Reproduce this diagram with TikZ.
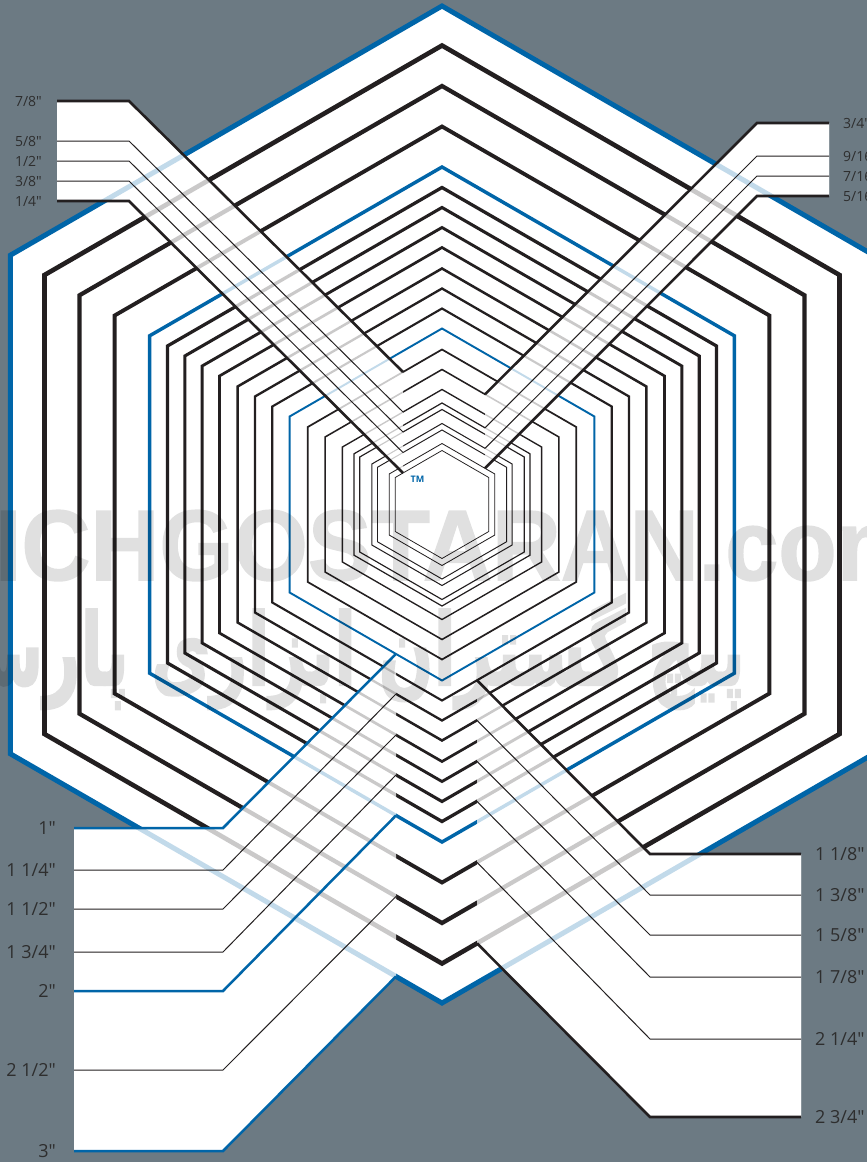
\documentclass[tikz,border=0pt]{standalone}
\usepackage{fontspec}
\newfontfamily\labfont{Open Sans}
\newfontface\markfont[FakeBold=1.5]{Liberation Sans Bold}
\newfontface\arabicfont[Script=Arabic, FakeBold=2]{DejaVu Sans Bold}
\TeXXeTstate=1
\definecolor{slatebg}{HTML}{6C7A83}
\definecolor{gaugeblue}{HTML}{0065A8}
\definecolor{gaugeblack}{HTML}{231F20}
\definecolor{labelgrey}{HTML}{2E2E2E}
\tikzset{
	bandfill/.style={fill=white, draw=none},
	bandveil/.style={fill=white, fill opacity=0.76, draw=none},
	edgeblack/.style={draw=gaugeblack, line width=2.6pt},
	edgeblue/.style={draw=gaugeblue, line width=2.5pt},
	thinblack/.style={draw=gaugeblack, line width=1pt},
	smalllab/.style={text=labelgrey, font=\labfont\fontsize{14}{14}\selectfont, inner sep=0pt},
	biglab/.style={text=labelgrey, font=\labfont\fontsize{18}{18}\selectfont, inner sep=0pt},
	watermark/.style={text=black, inner sep=0pt, transform shape}
}
\begin{document}
\begin{tikzpicture}[x=1pt, y=-1pt, line join=miter]
	\useasboundingbox (0,0) rectangle (867,1162);
	\clip (0,0) rectangle (867,1162);
	\fill[slatebg] (0,0) rectangle (867,1162);
	\coordinate (cen) at (442,504.5);
	
	% White bands under the hexagons
	\fill[bandfill] (57,101)--(129,101)--(403,372)--(403,473)--(129,201)--(57,201)--cycle;
	\fill[bandfill] (829,123)--(757,123)--(485,394.3)--(485,468.3)--(757,196)--(829,196)--cycle;
	\fill[bandfill] (74,828)--(223,828)--(396,654)--(396,976.5)--(223,1151)--(74,1151)--cycle;
	\fill[bandfill] (801,854)--(650,854)--(477,680.3)--(477,943.3)--(650,1117)--(801,1117)--cycle;
	
	% Hexagons, largest first
	\fill[white] (cen)+(90:498.5)--+(150:498.5)--+(210:498.5)--+(270:498.5)--+(330:498.5)--+(30:498.5)--cycle;
	\foreach \rad/\hexcol in {498.5/gaugeblue, 459/gaugeblack, 418.5/gaugeblack, 378/gaugeblack,
		337.5/gaugeblue, 317/gaugeblack, 297/gaugeblack, 277/gaugeblack, 257/gaugeblack,
		236/gaugeblack, 216/gaugeblack, 196/gaugeblack, 176/gaugeblue, 155/gaugeblack,
		135/gaugeblack, 115/gaugeblack, 101.5/gaugeblack, 95/gaugeblack, 81/gaugeblack,
		74.5/gaugeblack, 61/gaugeblack, 54/gaugeblack} {
		\pgfmathsetmacro{\wdt}{0.25+\rad/105}
		\draw[draw=\hexcol, line width=\wdt pt] (cen)+(90:\rad)--+(150:\rad)--+(210:\rad)--+(270:\rad)--+(330:\rad)--+(30:\rad)--cycle;
	}
	
	% Veil that fades the hexagons inside the bands
	\fill[bandveil] (57,101)--(129,101)--(403,372)--(403,473)--(129,201)--(57,201)--cycle;
	\fill[bandveil] (829,123)--(757,123)--(485,394.3)--(485,468.3)--(757,196)--(829,196)--cycle;
	\fill[bandveil] (74,828)--(223,828)--(396,654)--(396,976.5)--(223,1151)--(74,1151)--cycle;
	\fill[bandveil] (801,854)--(650,854)--(477,680.3)--(477,943.3)--(650,1117)--(801,1117)--cycle;
	
	% Leaders and labels, top left
	\foreach \yy/\rad/\txt/\sty in {101/155/{7/8"}/edgeblack, 141/115/{5/8"}/thinblack,
		161/95/{1/2"}/thinblack, 181/74.5/{3/8"}/thinblack, 201/54/{1/4"}/edgeblack} {
		\pgfmathsetmacro{\yend}{504.5-\rad+39*tan(30)}
		\draw[\sty] (57,\yy)--(129,\yy)--(403,\yend);
		\node[smalllab, anchor=east] (labtl\yy) at (42,\yy) {\txt};
	}
	
	% Top right
	\foreach \yy/\rad/\txt/\sty in {123/135/{3/4"}/edgeblack, 156/101.5/{9/16"}/thinblack,
		176/81/{7/16"}/thinblack, 196/61/{5/16"}/edgeblack} {
		\pgfmathsetmacro{\yend}{504.5-\rad+43*tan(30)}
		\draw[\sty] (829,\yy)--(757,\yy)--(485,\yend);
		\node[smalllab, anchor=west] (labtr\yy) at (843,\yy) {\txt};
	}
	
	% Bottom left
	\foreach \yy/\rad/\txt/\sty in {828/176/{1"}/edgeblue, 870/216/{1 1/4"}/thinblack,
		909/257/{1 1/2"}/thinblack, 952/297/{1 3/4"}/thinblack, 991/337.5/{2"}/edgeblue,
		1070/418.5/{2 1/2"}/thinblack, 1151/498.5/{3"}/edgeblue} {
		\pgfmathsetmacro{\yend}{504.5+\rad-46*tan(30)}
		\draw[\sty] (74,\yy)--(223,\yy)--(396,\yend);
		\node[biglab, anchor=east] (labbl\yy) at (56,\yy) {\txt};
	}
	
	% Bottom right
	\foreach \yy/\rad/\txt/\sty in {854/196/{1 1/8"}/edgeblack, 895/236/{1 3/8"}/thinblack,
		935/277/{1 5/8"}/thinblack, 977/317/{1 7/8"}/thinblack, 1039/378/{2 1/4"}/thinblack,
		1117/459/{2 3/4"}/edgeblack} {
		\pgfmathsetmacro{\yend}{504.5+\rad-35*tan(30)}
		\draw[\sty] (801,\yy)--(650,\yy)--(477,\yend);
		\node[biglab, anchor=west] (labbr\yy) at (815,\yy) {\txt};
	}
	
	\node[text=gaugeblue, font=\labfont\bfseries\fontsize{9}{9}\selectfont, inner sep=0pt] (tmark) at (417.5,479.5) {TM};
	
	% Site marks over everything
	\begin{scope}[transparency group, opacity=0.12]
		\node[watermark, anchor=base west, font=\markfont\fontsize{100}{100}\selectfont, xscale=0.955] (sitelatin) at (-69,580) {PICHGOSTARAN.com};
		\node[watermark, anchor=base east, font=\arabicfont\fontsize{100}{100}\selectfont, xscale=0.645] (sitepersian) at (745,685) {\beginR پیچ گستران ابزاری پارس\endR};
	\end{scope}
\end{tikzpicture}
\end{document}
